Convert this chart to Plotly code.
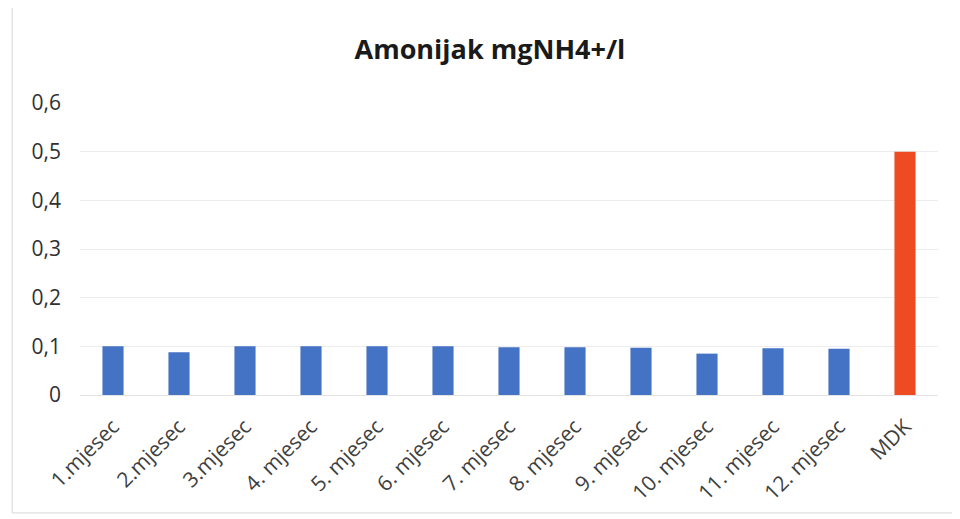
import plotly.graph_objects as go

# monthly ammonia values, last bar is the limit (MDK)
labels = ["1.mjesec", "2.mjesec", "3.mjesec", "4. mjesec", "5. mjesec", "6. mjesec",
          "7. mjesec", "8. mjesec", "9. mjesec", "10. mjesec", "11. mjesec", "12. mjesec", "MDK"]
values = [0.1, 0.088, 0.1, 0.1, 0.1, 0.1, 0.098, 0.098, 0.097, 0.085, 0.096, 0.095, 0.5]
colors = ["#4472C4"] * 12 + ["#EE4B22"]

fig = go.Figure(go.Bar(x=labels, y=values, marker_color=colors, marker_line_width=0, width=0.32))

fig.update_layout(
    title=dict(text="<b>Amonijak mgNH4+/l</b>", x=0.502, y=0.919, xanchor="center", yanchor="middle",
               font=dict(family="Open Sans", size=27, color="#1a1a1a")),
    separators=",.",
    width=960, height=519,
    margin=dict(l=72, r=30, t=95, b=132, autoexpand=False),
    paper_bgcolor="white", plot_bgcolor="white",
    font=dict(family="Open Sans", size=18, color="#404040"),
    showlegend=False,
)
fig.update_xaxes(tickangle=-45, showgrid=False, showline=True, linecolor="#e4e4e4",
                 ticks="", automargin=False, ticklabelstandoff=10,
                 tickfont=dict(size=21, color="#404040"))
fig.update_yaxes(range=[0, 0.6], dtick=0.1, showgrid=True, gridcolor="#ececec",
                 zeroline=False, ticks="", automargin=False, ticklabelstandoff=18,
                 tickfont=dict(size=21, color="#303030"))
fig.add_shape(type="rect", xref="paper", yref="paper", x0=-0.079, x1=1.02, y0=-0.404, y1=1.329,
              line=dict(color="#d6d6d6", width=1))

fig.write_html("out.html")
